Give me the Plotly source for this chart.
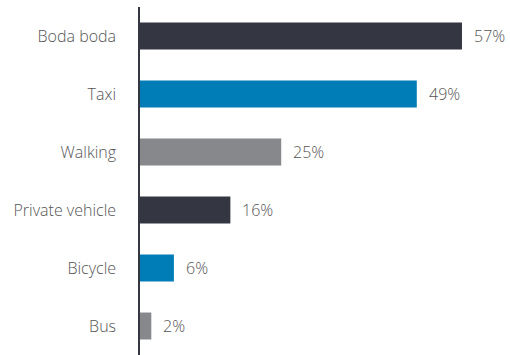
import plotly.graph_objects as go

categories = ["Boda boda", "Taxi", "Walking", "Private vehicle", "Bicycle", "Bus"]
values = [57, 49, 25, 16, 6, 2]
labels = ["57%", "49%", "25%", "16%", "6%", "2%"]
colors = ["#343741", "#007CB6", "#86888C", "#343741", "#007CB6", "#86888C"]

font_family = "Open Sans"
text_color = "#555555"

fig = go.Figure(
    go.Bar(
        x=values,
        y=categories,
        orientation="h",
        marker=dict(color=colors, line=dict(width=0)),
        width=0.465,
        hoverinfo="skip",
    )
)

for c, v, t in zip(categories, values, labels):
    fig.add_annotation(
        x=v, y=c, text=t, showarrow=False, xanchor="left", xshift=10,
        font=dict(family=font_family, size=16, color=text_color, weight=300),
    )

fig.update_layout(
    width=510,
    height=355,
    margin=dict(l=140, r=0, t=7, b=0),
    paper_bgcolor="white",
    plot_bgcolor="white",
    showlegend=False,
    font=dict(family=font_family, size=16, color=text_color, weight=300),
    xaxis=dict(range=[0, 65.5], visible=False, fixedrange=True),
    yaxis=dict(
        autorange="reversed",
        automargin=False,
        showline=True,
        linecolor="#343741",
        linewidth=1.5,
        showgrid=False,
        ticks="",
        ticklabelstandoff=19,
        tickfont=dict(family=font_family, size=16, color=text_color, weight=300),
        fixedrange=True,
    ),
)

fig.write_html(
    "out.html",
    config={"displayModeBar": False},
    post_script="document.body.style.margin='0';document.body.style.overflow='hidden';",
)
